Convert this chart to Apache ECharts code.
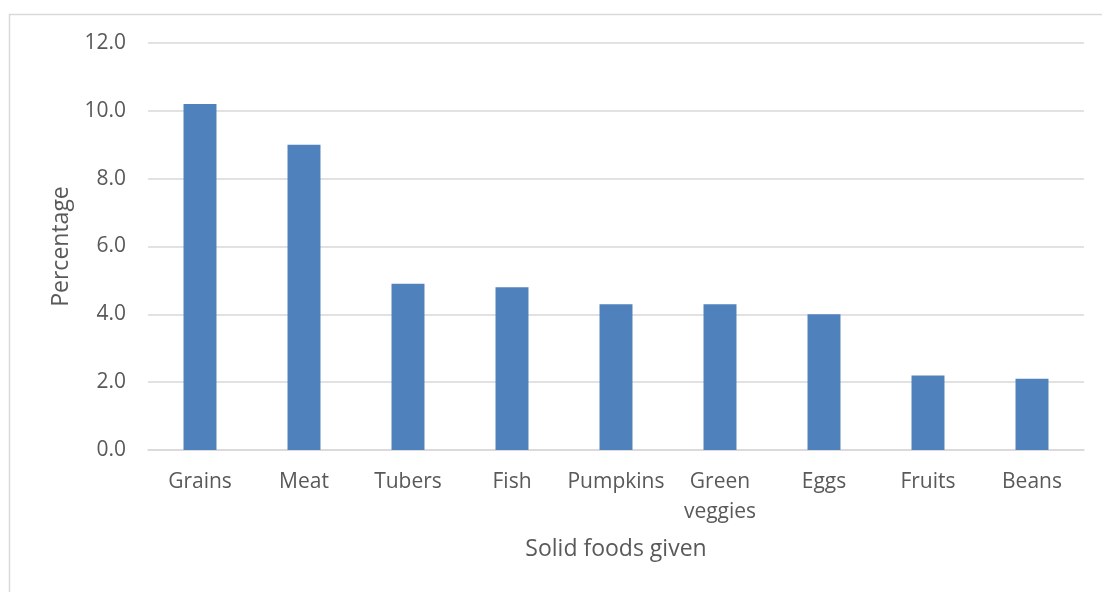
<!DOCTYPE html>
<html>
<head>
<meta charset="utf-8">
<script src="https://cdn.jsdelivr.net/npm/echarts@6/dist/echarts.min.js"></script>
<style>
  html, body { margin: 0; padding: 0; background: #fff; }
  #chart { width: 1102px; height: 592px; }
</style>
</head>
<body>
<div id="chart"></div>
<script>
// Share of solid foods given (percent)
const categories = ['Grains', 'Meat', 'Tubers', 'Fish', 'Pumpkins', 'Green veggies', 'Eggs', 'Fruits', 'Beans'];
const percentages = [10.2, 9.0, 4.9, 4.8, 4.3, 4.3, 4.0, 2.2, 2.1];
const yTicks = { min: 0, max: 12, step: 2 };

const textColor = '#595959';
const lineColor = '#d9d9d9';
const fontFamily = '"Open Sans", "Liberation Sans", sans-serif';

const chart = echarts.init(document.getElementById('chart'), null, { renderer: 'canvas' });
chart.setOption({
  animation: false,
  backgroundColor: '#fff',
  textStyle: { fontFamily: fontFamily, color: textColor },
  graphic: [{
    type: 'rect',
    shape: { x: 9.5, y: 14.5, width: 1200, height: 700 },
    style: { fill: 'none', stroke: lineColor, lineWidth: 1.5 },
    silent: true
  }],
  grid: { left: 148, right: 18, top: 43, bottom: 142 },
  xAxis: {
    type: 'category',
    data: categories,
    name: 'Solid foods given',
    nameLocation: 'middle',
    nameGap: 88,
    nameTextStyle: { fontSize: 23, color: textColor, fontFamily: fontFamily },
    axisLine: { show: true, lineStyle: { color: lineColor, width: 1.5 } },
    axisTick: { show: false },
    axisLabel: {
      color: textColor, fontSize: 21, fontFamily: fontFamily, margin: 17,
      lineHeight: 30, interval: 0,
      formatter: v => v.replace(' ', '\n')
    }
  },
  yAxis: {
    type: 'value',
    min: yTicks.min, max: yTicks.max, interval: yTicks.step,
    name: 'Percentage',
    nameLocation: 'middle',
    nameGap: 75,
    nameRotate: 90,
    nameTextStyle: { fontSize: 23, color: textColor, fontFamily: fontFamily },
    axisLine: { show: false },
    axisTick: { show: false },
    splitLine: { lineStyle: { color: lineColor, width: 1.5 } },
    axisLabel: {
      color: textColor, fontSize: 21, fontFamily: fontFamily, margin: 22,
      formatter: v => v.toFixed(1)
    }
  },
  series: [{
    type: 'bar',
    data: percentages,
    barWidth: '31.7%',
    itemStyle: { color: '#4f81bd' }
  }]
});
</script>
</body>
</html>
